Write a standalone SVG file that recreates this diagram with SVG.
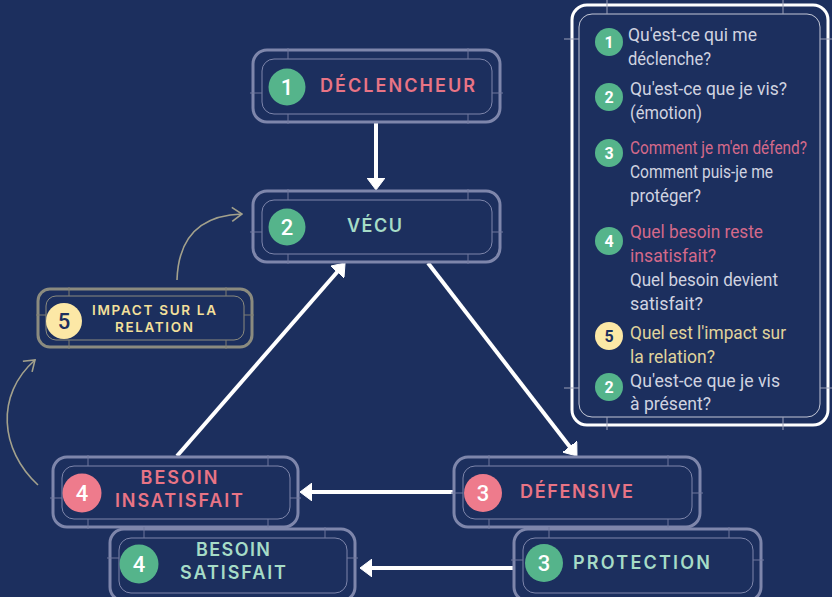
<svg xmlns="http://www.w3.org/2000/svg" width="832" height="597" viewBox="0 0 832 597">
<style>
.bg{fill:#1c2f5e}
.outer{fill:#1c2f5e;stroke:#7e86ab;stroke-width:3}
.inner{fill:none;stroke:#7e86ab;stroke-width:1}
.tick{stroke:#6f779c;stroke-width:1}
.outerY{fill:#1c2f5e;stroke:#8b8b7f;stroke-width:3}
.innerY{fill:none;stroke:#8b8b7f;stroke-width:1}
.tickY{stroke:#7d7d72;stroke-width:1}
.lbl{font-family:Inter,"Open Sans","Liberation Sans",sans-serif;font-weight:600;font-size:18px;letter-spacing:2px}
.pink{fill:#e97485}
.mint{fill:#a6dcc7}
.cream{fill:#f4e09b}
.num{font-family:Roboto,"Liberation Sans",sans-serif;font-weight:500;font-size:22px;text-anchor:middle}
.pnum{font-family:Roboto,"Liberation Sans",sans-serif;font-weight:700;font-size:16px;text-anchor:middle;fill:#ffffff}
.pt{font-family:Roboto,"Liberation Sans",sans-serif;font-weight:400;font-size:18px}
.w{fill:#d0d3e0}
.pp{fill:#d4698a}
.pc{fill:#e0d49c}
.arrow{stroke:#ffffff;stroke-width:4;fill:none;marker-end:url(#ah)}
.garrow{stroke:#a3a18c;stroke-width:1.6;fill:none;marker-end:url(#gah)}
</style>
<defs>
<marker id="ah" markerUnits="userSpaceOnUse" viewBox="0 0 12 18" markerWidth="12" markerHeight="18" refX="4" refY="9" orient="auto">
<path d="M0,0 L12,9 L0,18 Z" fill="#ffffff" stroke="#ffffff" stroke-width="1" stroke-linejoin="round"/>
</marker>
<marker id="gah" markerUnits="userSpaceOnUse" viewBox="0 0 12 16" markerWidth="12" markerHeight="16" refX="11" refY="8" orient="auto">
<path d="M1,1 L11,8 L1,15" fill="none" stroke="#a3a18c" stroke-width="1.6"/>
</marker>
</defs>
<rect class="bg" x="0" y="0" width="832" height="597"/>

<g id="connectors">
<line class="arrow" x1="376" y1="123" x2="376" y2="182"/>
<line class="arrow" x1="177" y1="456" x2="339.8" y2="269"/>
<line class="arrow" x1="428" y1="263" x2="572.1" y2="449.7"/>
<line class="arrow" x1="454" y1="492" x2="308" y2="492"/>
<line class="arrow" x1="514" y1="568" x2="368" y2="568"/>
<path class="garrow" d="M177,280 Q179,216 242,214"/>
<path class="garrow" d="M38,485 C0,450 -5,395 35,360"/>
</g>

<g id="panel">
<rect x="572" y="5" width="256" height="420" rx="15" fill="#1c2f5e" stroke="#ffffff" stroke-width="3"/>
<rect x="579" y="14" width="241" height="403" rx="13" fill="none" stroke="#c3c7d6" stroke-width="1"/>
<g stroke="#9aa0b8" stroke-width="1">
<line x1="607" y1="0" x2="607" y2="14"/><line x1="783" y1="0" x2="783" y2="14"/>
<line x1="607" y1="417" x2="607" y2="430"/><line x1="783" y1="417" x2="783" y2="430"/>
<line x1="564" y1="39" x2="579" y2="39"/><line x1="820" y1="39" x2="832" y2="39"/>
<line x1="564" y1="388" x2="579" y2="388"/><line x1="820" y1="388" x2="832" y2="388"/>
</g>
<circle cx="609" cy="42" r="14" fill="#55b48b"/><text class="pnum" x="609" y="48">1</text>
<circle cx="609" cy="97" r="14" fill="#55b48b"/><text class="pnum" x="609" y="103">2</text>
<circle cx="609" cy="153" r="14" fill="#55b48b"/><text class="pnum" x="609" y="159">3</text>
<circle cx="609" cy="241" r="14" fill="#55b48b"/><text class="pnum" x="609" y="247">4</text>
<circle cx="609" cy="336" r="14" fill="#fce8a6"/><text class="pnum" x="609" y="342" style="fill:#1c2f5e">5</text>
<circle cx="609" cy="387" r="14" fill="#55b48b"/><text class="pnum" x="609" y="393">2</text>
<text class="pt w" x="628" y="41" textLength="129" lengthAdjust="spacingAndGlyphs">Qu'est-ce qui me</text>
<text class="pt w" x="628" y="65" textLength="83" lengthAdjust="spacingAndGlyphs">déclenche?</text>
<text class="pt w" x="630" y="95" textLength="157" lengthAdjust="spacingAndGlyphs">Qu'est-ce que je vis?</text>
<text class="pt w" x="630" y="119" textLength="72" lengthAdjust="spacingAndGlyphs">(émotion)</text>
<text class="pt pp" x="630" y="154" textLength="177" lengthAdjust="spacingAndGlyphs">Comment je m'en défend?</text>
<text class="pt w" x="630" y="178" textLength="143" lengthAdjust="spacingAndGlyphs">Comment puis-je me</text>
<text class="pt w" x="630" y="202" textLength="71" lengthAdjust="spacingAndGlyphs">protéger?</text>
<text class="pt pp" x="630" y="238" textLength="133" lengthAdjust="spacingAndGlyphs">Quel besoin reste</text>
<text class="pt pp" x="630" y="262" textLength="86" lengthAdjust="spacingAndGlyphs">insatisfait?</text>
<text class="pt w" x="630" y="286" textLength="148" lengthAdjust="spacingAndGlyphs">Quel besoin devient</text>
<text class="pt w" x="630" y="310" textLength="73" lengthAdjust="spacingAndGlyphs">satisfait?</text>
<text class="pt pc" x="630" y="339" textLength="156" lengthAdjust="spacingAndGlyphs">Quel est l'impact sur</text>
<text class="pt pc" x="630" y="363" textLength="85" lengthAdjust="spacingAndGlyphs">la relation?</text>
<text class="pt w" x="630" y="387" textLength="150" lengthAdjust="spacingAndGlyphs">Qu'est-ce que je vis</text>
<text class="pt w" x="630" y="410" textLength="81" lengthAdjust="spacingAndGlyphs">à présent?</text>
</g>

<g id="n1">
<rect class="outer" x="253" y="50" width="247" height="72" rx="14"/>
<rect class="inner" x="262" y="59" width="230" height="55" rx="12"/>
<line class="tick" x1="288" y1="48" x2="288" y2="59"/><line class="tick" x1="468" y1="48" x2="468" y2="59"/>
<line class="tick" x1="288" y1="114" x2="288" y2="124"/><line class="tick" x1="468" y1="114" x2="468" y2="124"/>
<line class="tick" x1="250" y1="93" x2="262" y2="93"/><line class="tick" x1="492" y1="93" x2="503" y2="93"/>
<circle cx="287" cy="87" r="18.5" fill="#55b48b"/>
<text class="num" x="287" y="95" fill="#ffffff">1</text>
<text class="lbl pink" x="320" y="92" textLength="157" lengthAdjust="spacing">DÉCLENCHEUR</text>
</g>

<g id="n2">
<rect class="outer" x="253" y="191" width="247" height="71" rx="14"/>
<rect class="inner" x="262" y="200" width="230" height="54" rx="12"/>
<line class="tick" x1="288" y1="189" x2="288" y2="200"/><line class="tick" x1="468" y1="189" x2="468" y2="200"/>
<line class="tick" x1="288" y1="254" x2="288" y2="264"/><line class="tick" x1="468" y1="254" x2="468" y2="264"/>
<line class="tick" x1="250" y1="232" x2="262" y2="232"/><line class="tick" x1="492" y1="232" x2="503" y2="232"/>
<circle cx="287" cy="227" r="18.5" fill="#55b48b"/>
<text class="num" x="287" y="235" fill="#ffffff">2</text>
<text class="lbl mint" x="347" y="232" textLength="57" lengthAdjust="spacing">VÉCU</text>
</g>

<g id="n5">
<rect class="outerY" x="38" y="289" width="214" height="58" rx="12"/>
<rect class="innerY" x="46" y="296" width="198" height="44" rx="10"/>
<line class="tickY" x1="69" y1="287" x2="69" y2="296"/><line class="tickY" x1="226" y1="287" x2="226" y2="296"/>
<line class="tickY" x1="69" y1="340" x2="69" y2="349"/><line class="tickY" x1="226" y1="340" x2="226" y2="349"/>
<line class="tickY" x1="36" y1="315" x2="46" y2="315"/><line class="tickY" x1="244" y1="315" x2="254" y2="315"/>
<circle cx="64" cy="321" r="18" fill="#fce8a6"/>
<text class="num" x="64" y="329" fill="#1c2f5e">5</text>
<text class="lbl cream" x="155" y="315" style="font-size:13.5px" text-anchor="middle" textLength="126" lengthAdjust="spacing">IMPACT SUR LA</text>
<text class="lbl cream" x="155" y="332" style="font-size:13.5px" text-anchor="middle" textLength="80" lengthAdjust="spacing">RELATION</text>
</g>

<g id="n4a">
<rect class="outer" x="53" y="457" width="245" height="70" rx="14"/>
<rect class="inner" x="62" y="466" width="228" height="53" rx="12"/>
<line class="tick" x1="88" y1="455" x2="88" y2="466"/><line class="tick" x1="268" y1="455" x2="268" y2="466"/>
<line class="tick" x1="88" y1="519" x2="88" y2="529"/><line class="tick" x1="268" y1="519" x2="268" y2="529"/>
<line class="tick" x1="50" y1="498" x2="62" y2="498"/><line class="tick" x1="290" y1="498" x2="301" y2="498"/>
<circle cx="82" cy="493" r="19.5" fill="#ee7b8c"/>
<text class="num" x="82" y="501" fill="#ffffff">4</text>
<text class="lbl pink" x="180" y="484" text-anchor="middle" textLength="79" lengthAdjust="spacing">BESOIN</text>
<text class="lbl pink" x="180" y="507" text-anchor="middle" textLength="130" lengthAdjust="spacing">INSATISFAIT</text>
</g>

<g id="n4b">
<rect class="outer" x="110" y="529" width="245" height="72" rx="14"/>
<rect class="inner" x="119" y="538" width="228" height="55" rx="12"/>
<line class="tick" x1="144" y1="527" x2="144" y2="538"/><line class="tick" x1="325" y1="527" x2="325" y2="538"/>
<line class="tick" x1="107" y1="558" x2="119" y2="558"/><line class="tick" x1="347" y1="558" x2="358" y2="558"/>
<circle cx="139" cy="564" r="19.5" fill="#55b48b"/>
<text class="num" x="139" y="572" fill="#ffffff">4</text>
<text class="lbl mint" x="234" y="556" text-anchor="middle" textLength="76" lengthAdjust="spacing">BESOIN</text>
<text class="lbl mint" x="234" y="579" text-anchor="middle" textLength="108" lengthAdjust="spacing">SATISFAIT</text>
</g>

<g id="n3a">
<rect class="outer" x="454" y="457" width="246" height="70" rx="14"/>
<rect class="inner" x="463" y="466" width="229" height="53" rx="12"/>
<line class="tick" x1="489" y1="455" x2="489" y2="466"/><line class="tick" x1="668" y1="455" x2="668" y2="466"/>
<line class="tick" x1="489" y1="519" x2="489" y2="529"/><line class="tick" x1="668" y1="519" x2="668" y2="529"/>
<line class="tick" x1="451" y1="493" x2="463" y2="493"/><line class="tick" x1="692" y1="493" x2="703" y2="493"/>
<circle cx="483" cy="493" r="19" fill="#ee7b8c"/>
<text class="num" x="483" y="501" fill="#ffffff">3</text>
<text class="lbl pink" x="520" y="498" textLength="115" lengthAdjust="spacing">DÉFENSIVE</text>
</g>

<g id="n3b">
<rect class="outer" x="514" y="529" width="247" height="72" rx="14"/>
<rect class="inner" x="523" y="538" width="230" height="55" rx="12"/>
<line class="tick" x1="549" y1="527" x2="549" y2="538"/><line class="tick" x1="729" y1="527" x2="729" y2="538"/>
<line class="tick" x1="511" y1="560" x2="523" y2="560"/><line class="tick" x1="753" y1="560" x2="764" y2="560"/>
<circle cx="544" cy="563" r="19" fill="#55b48b"/>
<text class="num" x="544" y="571" fill="#ffffff">3</text>
<text class="lbl mint" x="573" y="569" textLength="139" lengthAdjust="spacing">PROTECTION</text>
</g>
</svg>
